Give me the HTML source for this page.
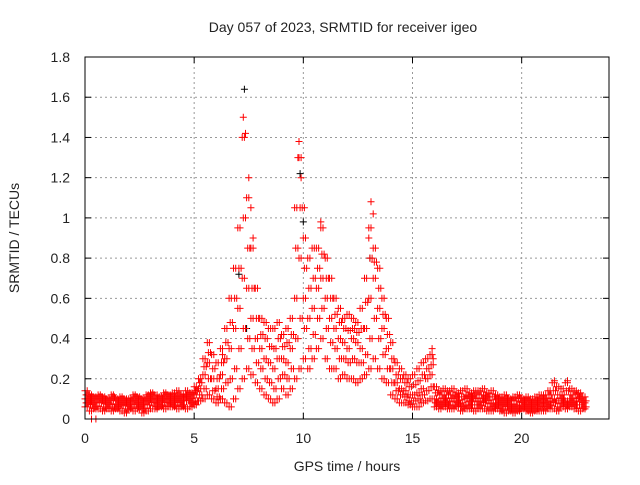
<!DOCTYPE html>
<html><head><meta charset="utf-8"><style>
body{margin:0;background:#fff}
svg text{font-family:"Liberation Sans",sans-serif;font-size:14px;fill:#222}
</style></head><body>
<svg id="chart" width="640" height="480" viewBox="0 0 640 480" xmlns="http://www.w3.org/2000/svg">
<rect width="640" height="480" fill="#fff"/>
<text x="343" y="32" text-anchor="middle">Day 057 of 2023, SRMTID for receiver igeo</text>
<text transform="translate(19,238) rotate(-90)" text-anchor="middle">SRMTID / TECUs</text>
<text x="347" y="471" text-anchor="middle">GPS time / hours</text>
<g id="grid"></g><g id="marks"></g>
<rect x="85" y="57" width="524" height="362" fill="none" stroke="#000" stroke-width="1"/>
</svg>
<script>
const xTicks=[0,5,10,15,20];
const yTicks=[0,0.2,0.4,0.6,0.8,1,1.2,1.4,1.6,1.8];
const yTickLabels=["0","0.2","0.4","0.6","0.8","1","1.2","1.4","1.6","1.8"];
const seriesLo=[0.06,0.04,0.05,0.05,0.04,0.05,0.04,0.05,0.04,0.03,0.05,0.04,0.05,0.03,0.04,0.05,0.05,0.06,0.05,0.06,0.06,0.05,0.06,0.05,0.06,
0.07,0.09,0.10,0.12,0.10,0.08,0.10,0.08,0.06,0.10,
0.15,0.20,0.25,0.22,0.18,
0.15,0.12,0.10,0.08,0.10,0.15,0.12,0.15,
0.20,0.25,0.30,0.25,0.30,0.35,0.40,
0.30,0.25,0.25,0.20,0.22,0.20,0.20,0.18,0.20,0.22,
0.25,0.30,0.25,0.20,0.18,
0.12,0.10,0.08,0.08,0.07,0.06,0.06,0.08,0.09,0.10,
0.06,0.05,0.06,0.05,0.05,0.06,0.04,0.05,0.05,0.04,0.05,0.05,0.04,0.04,0.05,
0.04,0.03,0.04,0.03,0.04,0.05,0.04,0.03,0.04,0.04,
0.04,0.05,0.05,0.04,0.06,0.05,0.06,0.05,0.04,0.05];
const seriesQ1=[0.08,0.07,0.06,0.08,0.06,0.07,0.06,0.06,0.07,0.05,0.06,0.07,0.06,0.05,0.07,0.08,0.06,0.07,0.08,0.08,0.07,0.08,0.07,0.09,0.08,
0.09,0.12,0.15,0.20,0.14,0.11,0.15,0.18,0.20,0.25,
0.35,0.45,0.40,0.35,0.28,
0.25,0.20,0.18,0.15,0.20,0.22,0.20,0.25,
0.40,0.50,0.45,0.35,0.42,0.50,0.55,
0.45,0.38,0.35,0.30,0.30,0.28,0.30,0.28,0.28,0.32,
0.40,0.50,0.40,0.32,0.25,
0.18,0.14,0.12,0.11,0.09,0.09,0.10,0.12,0.14,0.16,
0.08,0.07,0.08,0.07,0.07,0.08,0.06,0.07,0.07,0.07,0.07,0.08,0.06,0.06,0.07,
0.05,0.06,0.05,0.05,0.05,0.06,0.05,0.05,0.05,0.06,
0.06,0.07,0.08,0.06,0.08,0.07,0.08,0.07,0.07,0.06];
const seriesMid=[0.10,0.09,0.08,0.10,0.09,0.08,0.09,0.07,0.08,0.08,0.07,0.09,0.08,0.07,0.09,0.10,0.08,0.09,0.10,0.10,0.09,0.10,0.09,0.11,0.10,
0.12,0.15,0.22,0.28,0.20,0.15,0.22,0.30,0.35,0.45,
0.55,0.70,0.65,0.50,0.40,
0.35,0.30,0.28,0.25,0.30,0.30,0.28,0.35,
0.60,0.80,0.60,0.50,0.55,0.65,0.70,
0.60,0.50,0.45,0.40,0.38,0.35,0.40,0.38,0.35,0.45,
0.60,0.70,0.55,0.45,0.35,
0.25,0.18,0.15,0.14,0.12,0.12,0.13,0.15,0.20,0.22,
0.10,0.09,0.10,0.09,0.10,0.09,0.08,0.10,0.09,0.10,0.09,0.10,0.09,0.08,0.08,
0.07,0.08,0.07,0.06,0.07,0.08,0.07,0.06,0.07,0.08,
0.08,0.09,0.10,0.09,0.10,0.09,0.10,0.09,0.10,0.08];
const seriesQ3=[0.12,0.11,0.10,0.11,0.10,0.09,0.11,0.09,0.10,0.09,0.09,0.11,0.10,0.09,0.11,0.12,0.10,0.10,0.12,0.11,0.11,0.12,0.11,0.12,0.12,
0.14,0.18,0.26,0.33,0.25,0.20,0.28,0.38,0.48,0.60,
0.75,1.00,0.85,0.65,0.50,
0.42,0.40,0.36,0.35,0.40,0.36,0.38,0.42,
0.85,1.05,0.75,0.65,0.70,0.75,0.82,
0.70,0.60,0.52,0.48,0.45,0.44,0.45,0.43,0.45,0.58,
0.80,0.78,0.65,0.52,0.42,
0.30,0.22,0.20,0.18,0.16,0.17,0.19,0.22,0.25,0.27,
0.13,0.12,0.12,0.12,0.12,0.11,0.11,0.12,0.11,0.12,0.12,0.12,0.11,0.11,0.10,
0.09,0.10,0.09,0.09,0.10,0.09,0.09,0.08,0.09,0.10,
0.10,0.12,0.14,0.12,0.12,0.14,0.12,0.12,0.11,0.09];
const seriesHi=[0.14,0.12,0.11,0.12,0.11,0.10,0.12,0.10,0.11,0.10,0.10,0.12,0.11,0.10,0.12,0.13,0.12,0.11,0.13,0.12,0.13,0.14,0.12,0.14,0.13,
0.16,0.20,0.30,0.38,0.32,0.28,0.35,0.45,0.60,0.75,
0.95,1.40,1.10,0.85,0.65,
0.50,0.48,0.45,0.45,0.48,0.42,0.45,0.50,
1.05,1.30,0.90,0.80,0.85,0.85,0.95,
0.80,0.70,0.60,0.55,0.50,0.52,0.50,0.48,0.55,0.70,
0.95,0.85,0.75,0.60,0.50,
0.38,0.28,0.25,0.22,0.20,0.22,0.25,0.28,0.30,0.32,
0.16,0.14,0.15,0.14,0.15,0.13,0.14,0.15,0.13,0.14,0.14,0.15,0.13,0.14,0.12,
0.11,0.12,0.10,0.11,0.12,0.10,0.11,0.10,0.11,0.12,
0.12,0.14,0.18,0.16,0.15,0.18,0.15,0.14,0.13,0.11];
const peakT=[7.25,7.35,7.5,7.6,7.7,9.75,9.8,9.9,10.05,10.8,10.7,13.1,13.2,13.0,15.9,15.95,5.7,6.3,21.5,22.1,0.3,0.5];
const peakV=[1.50,1.42,1.20,1.05,0.90,1.30,1.38,1.20,1.05,0.98,0.85,1.08,1.02,0.90,0.35,0.30,0.38,0.32,0.19,0.19,0.0,0.0];
const blackT=[7.3,7.05,9.85,13.05,7.4,10.0];
const blackV=[1.64,0.72,1.22,0.80,0.45,0.98];
const stepHours=0.2;

const NS="http://www.w3.org/2000/svg";
const X=t=>85+t*(524/24), Y=v=>419-v*(362/1.8);
const grid=document.getElementById('grid'), marks=document.getElementById('marks');
function mk(tag,attrs,parent){const e=document.createElementNS(NS,tag);for(const k in attrs)e.setAttribute(k,attrs[k]);parent.appendChild(e);return e;}
xTicks.forEach(t=>{
  const x=X(t);
  const g=mk('line',{x1:x,x2:x,y1:57,y2:419,stroke:'#999','stroke-dasharray':'2,3'},grid);
  
  
  mk('line',{x1:x,x2:x,y1:419,y2:413,stroke:'#000'},grid);
  mk('line',{x1:x,x2:x,y1:57,y2:63,stroke:'#000'},grid);
  const tx=mk('text',{x:x,y:443,'text-anchor':'middle'},grid);tx.textContent=t;
  
  
});
yTicks.forEach((v,i)=>{
  const y=Y(v);
  const g=mk('line',{x1:85,x2:609,y1:y,y2:y,stroke:'#999','stroke-dasharray':'2,3'},grid);
  
  
  mk('line',{x1:85,x2:91,y1:y,y2:y,stroke:'#000'},grid);
  mk('line',{x1:603,x2:609,y1:y,y2:y,stroke:'#000'},grid);
  const tx=mk('text',{x:70,y:y+5,'text-anchor':'end'},grid);tx.textContent=yTickLabels[i];
  
  
});
let d='';
function plus(t,v){const x=X(t),y=Y(v);d+=`M${(x-3.5).toFixed(1)} ${y.toFixed(1)}h7M${x.toFixed(1)} ${(y-3.5).toFixed(1)}v7`;}
let db='';
blackT.forEach((t,i)=>{const x=X(t),y=Y(blackV[i]);db+=`M${(x-3.5).toFixed(1)} ${y.toFixed(1)}h7M${x.toFixed(1)} ${(y-3.5).toFixed(1)}v7`;});
const pb=mk('path',{d:db,stroke:'#000','stroke-width':1,fill:'none'},marks);


[seriesLo,seriesMid,seriesHi].forEach(s=>{
  s.forEach((v,i)=>{const t=i*stepHours;plus(t,v);plus(t+stepHours/2,v);});
});
[seriesQ1,seriesQ3].forEach(s=>{
  s.forEach((v,i)=>{const t=i*stepHours;plus(t+stepHours/4,v);plus(t+3*stepHours/4,v);});
});
peakT.forEach((t,i)=>plus(t,peakV[i]));
const pr=mk('path',{d:d,stroke:'#ff0000','stroke-width':1,fill:'none'},marks);


</script>
</body></html>
